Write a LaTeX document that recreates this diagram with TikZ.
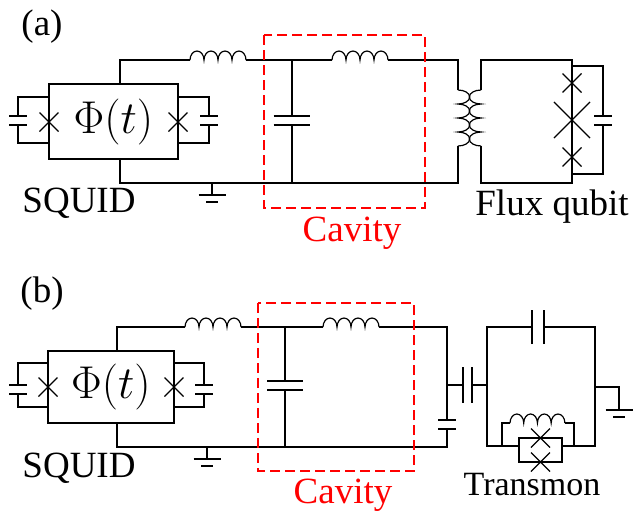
\RequirePackage{fix-cm}
\documentclass[tikz,border=0pt]{standalone}
\usepackage{fontspec}
\setmainfont{Liberation Serif}
\tikzset{
  wire/.style={line width=1.2pt},
  cavitybox/.style={red, line width=1.4pt, dash pattern=on 10pt off 5pt},
  lbl/.style={font=\fontsize{37}{42}\selectfont, inner sep=0pt},
  phibox/.style={draw, wire, font=\fontsize{46}{46}\selectfont},
  coil/.pic={\draw[wire] (0,0) \foreach \i in {1,...,4} {arc (180:360:7 and 9)};},
  jj/.pic={\draw[wire] (-9.5,-9.5) -- (9.5,9.5) (-9.5,9.5) -- (9.5,-9.5);},
  plates/.pic={\draw[wire] (-9,-4.5) -- (9,-4.5) (-9,4.5) -- (9,4.5);},
  gnd/.pic={\draw[wire] (-13.5,0) -- (13.5,0) (-6,7) -- (6,7);},
}
\begin{document}
\begin{tikzpicture}[x=1pt,y=-1pt]
  \useasboundingbox (0,0) rectangle (634,512);

  % (a) flux qubit
  \node[lbl] (labela) at (42,27) {(a)};
  \node[phibox, minimum width=129pt, minimum height=75pt] (boxa) at (113.5,121.5) {$\Phi(t)$};

  \draw[wire] (120,84) -- (120,60) -- (190,60);
  \pic at (190,60) {coil};
  \draw[wire] (246,60) -- (332,60);
  \pic at (332,60) {coil};
  \draw[wire] (388,60) -- (458,60) -- (458,90);
  \pic[rotate=-90, yscale=1.3] at (458,90) {coil};
  \draw[wire] (458,146) -- (458,183) -- (120,183) -- (120,159);

  \draw[wire] (49,97) -- (18,97) -- (18,116) (18,125) -- (18,143) -- (49,143);
  \pic at (18,120.5) {plates};
  \pic at (49,122) {jj};
  \draw[wire] (178,97) -- (209,97) -- (209,116) (209,125) -- (209,143) -- (178,143);
  \pic at (209,120.5) {plates};
  \pic at (178,122) {jj};

  \draw[wire] (212,183) -- (212,195);
  \pic at (212,195) {gnd};

  \draw[wire] (292,60) -- (292,116) (292,125) -- (292,183);
  \pic[xscale=2.05] at (292,120.5) {plates};

  \draw[wire] (481,90) -- (481,60) -- (572,60) -- (572,183) -- (481,183) -- (481,146);
  \pic[rotate=90, yscale=1.3] at (481,146) {coil};
  \pic at (572,83) {jj};
  \pic[scale=1.9] at (572,120) {jj};
  \pic at (572,157) {jj};
  \draw[wire] (572,66) -- (603,66) -- (603,116) (603,125) -- (603,174) -- (572,174);
  \pic at (603,120.5) {plates};

  \draw[cavitybox] (264,35) rectangle (425,208);
  \node[lbl] (squida) at (79,203) {SQUID};
  \node[lbl, red] (cavitya) at (352,233) {Cavity};
  \node[lbl] (fluxa) at (552,207) {Flux qubit};

  % (b) transmon
  \node[lbl] (labelb) at (42,294) {(b)};
  \node[phibox, minimum width=126pt, minimum height=72pt] (boxb) at (111,387) {$\Phi(t)$};

  \draw[wire] (117,351) -- (117,327) -- (185,327);
  \pic at (185,327) {coil};
  \draw[wire] (241,327) -- (323,327);
  \pic at (323,327) {coil};
  \draw[wire] (379,327) -- (447,327) -- (447,420) (447,429) -- (447,447) -- (117,447) -- (117,423);
  \pic at (447,424.5) {plates};

  \draw[wire] (48,363) -- (18,363) -- (18,385) (18,394) -- (18,407) -- (48,407);
  \pic at (18,389.5) {plates};
  \pic at (48,387) {jj};
  \draw[wire] (174,363) -- (204,363) -- (204,385) (204,394) -- (204,407) -- (174,407);
  \pic at (204,389.5) {plates};
  \pic at (174,387) {jj};

  \draw[wire] (207,447) -- (207,459);
  \pic at (207,459) {gnd};

  \draw[wire] (285,327) -- (285,381) (285,390) -- (285,447);
  \pic[xscale=2] at (285,385.5) {plates};

  \draw[wire] (447,385) -- (463,385) (472,385) -- (487,385);
  \pic[rotate=90, xscale=1.95] at (467.5,385) {plates};
  \draw[wire] (502,446) -- (487,446) -- (487,327) -- (532,327) (544,327) -- (595,327) -- (595,446) -- (574,446);
  \pic[rotate=90, xscale=1.9, yscale=1.33] at (538,327) {plates};
  \draw[wire] (595,387) -- (619,387) -- (619,410);
  \pic at (619,410) {gnd};

  \draw[wire] (502,446) -- (502,423) -- (510,423) (565,423) -- (574,423) -- (574,446);
  \pic[xscale=0.98] at (510,423) {coil};
  \draw[wire] (502,446) -- (519,446) (562,446) -- (574,446);
  \draw[wire] (519,438) rectangle (562,462);
  \pic at (540.5,438) {jj};
  \pic at (540.5,462) {jj};

  \draw[cavitybox] (258,303) rectangle (414,471);
  \node[lbl] (squidb) at (79,468) {SQUID};
  \node[lbl, red] (cavityb) at (343,495) {Cavity};
  \node[lbl, font=\fontsize{34}{40}\selectfont] (transmon) at (532,485) {Transmon};
\end{tikzpicture}
\end{document}
